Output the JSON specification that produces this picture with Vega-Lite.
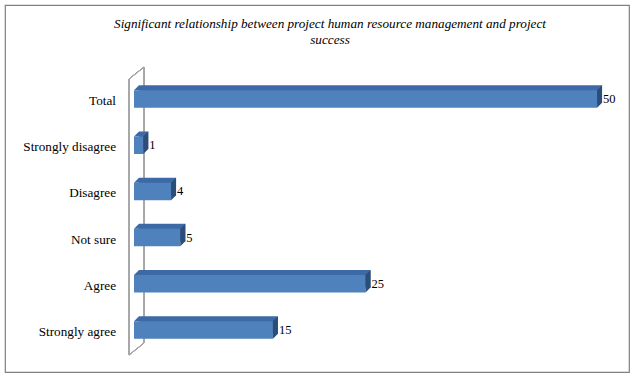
{
  "$schema": "https://vega.github.io/schema/vega-lite/v6.json",
  "width": 624,
  "height": 367,
  "autosize": "none",
  "padding": {"left": 5, "top": 5, "right": 6, "bottom": 6},
  "background": "white",
  "config": {
    "view": {"stroke": "#808080", "strokeWidth": 1.2},
    "font": "Liberation Serif, Times New Roman, serif"
  },
  "title": {
    "text": ["Significant relationship between  project  human resource  management and project", "success"],
    "font": "Liberation Serif, Times New Roman, serif",
    "fontStyle": "italic",
    "fontWeight": "normal",
    "fontSize": 13.2,
    "lineHeight": 16,
    "color": "#000000",
    "anchor": "middle",
    "baseline": "top",
    "offset": -42,
    "dx": 13
  },
  "data": {
    "values": [
      {"category": "Total", "value": 50},
      {"category": "Strongly disagree", "value": 1},
      {"category": "Disagree", "value": 4},
      {"category": "Not sure", "value": 5},
      {"category": "Agree", "value": 25},
      {"category": "Strongly agree", "value": 15}
    ]
  },
  "encoding": {
    "y": {
      "field": "category",
      "type": "nominal",
      "sort": null,
      "axis": null,
      "scale": {"type": "band", "range": [71, 348], "paddingInner": 0.62, "paddingOuter": 0.31}
    }
  },
  "layer": [
    {
      "mark": {"type": "rule", "color": "#a6a6a6", "strokeWidth": 1, "xOffset": -5},
      "encoding": {
        "x": {"datum": 0, "type": "quantitative", "axis": null, "scale": {"domain": [-13.93, 53.45], "nice": false, "zero": false}},
        "y": {"value": 74},
        "y2": {"value": 350}
      }
    },
    {
      "mark": {"type": "rule", "color": "#a6a6a6", "strokeWidth": 1, "xOffset": 10},
      "encoding": {
        "x": {"datum": 0, "type": "quantitative"},
        "y": {"value": 62},
        "y2": {"value": 338}
      }
    },
    {
      "mark": {"type": "rule", "color": "#a6a6a6", "strokeWidth": 1, "xOffset": -5, "x2Offset": 10},
      "encoding": {
        "x": {"datum": 0, "type": "quantitative"},
        "x2": {"datum": 0},
        "y": {"value": 74},
        "y2": {"value": 62}
      }
    },
    {
      "mark": {"type": "rule", "color": "#a6a6a6", "strokeWidth": 1, "xOffset": -5, "x2Offset": 10},
      "encoding": {
        "x": {"datum": 0, "type": "quantitative"},
        "x2": {"datum": 0},
        "y": {"value": 350},
        "y2": {"value": 338}
      }
    },
    {
      "mark": {"type": "bar", "color": "#3d6aa6", "xOffset": 5, "x2Offset": 5, "yOffset": -5, "y2Offset": -5},
      "encoding": {
        "x": {"field": "value", "type": "quantitative"}
      }
    },
    {
      "mark": {"type": "point", "filled": true, "size": 4, "strokeWidth": 0, "opacity": 1, "color": "#3d6aa6", "shape": "M0,-8.75L5,-13.75L5,-8.75Z"},
      "encoding": {
        "x": {"datum": 0, "type": "quantitative"}
      }
    },
    {
      "mark": {"type": "bar", "color": "#4f81bd"},
      "encoding": {
        "x": {"field": "value", "type": "quantitative"}
      }
    },
    {
      "mark": {"type": "point", "filled": true, "size": 4, "strokeWidth": 0, "opacity": 1, "color": "#2c4d78", "shape": "M0,-8.75L5,-13.75L5,3.75L0,8.75Z"},
      "encoding": {
        "x": {"field": "value", "type": "quantitative"}
      }
    },
    {
      "mark": {"type": "text", "align": "left", "baseline": "middle", "dx": 6, "fontSize": 12.5, "font": "Liberation Serif, Times New Roman, serif", "color": "#000000"},
      "encoding": {
        "x": {"field": "value", "type": "quantitative"},
        "text": {"field": "value", "type": "quantitative"}
      }
    },
    {
      "mark": {"type": "text", "align": "right", "baseline": "middle", "dx": -18, "dy": 2, "fontSize": 13.2, "font": "Liberation Serif, Times New Roman, serif", "color": "#000000"},
      "encoding": {
        "x": {"datum": 0, "type": "quantitative"},
        "text": {"field": "category", "type": "nominal"}
      }
    }
  ]
}
